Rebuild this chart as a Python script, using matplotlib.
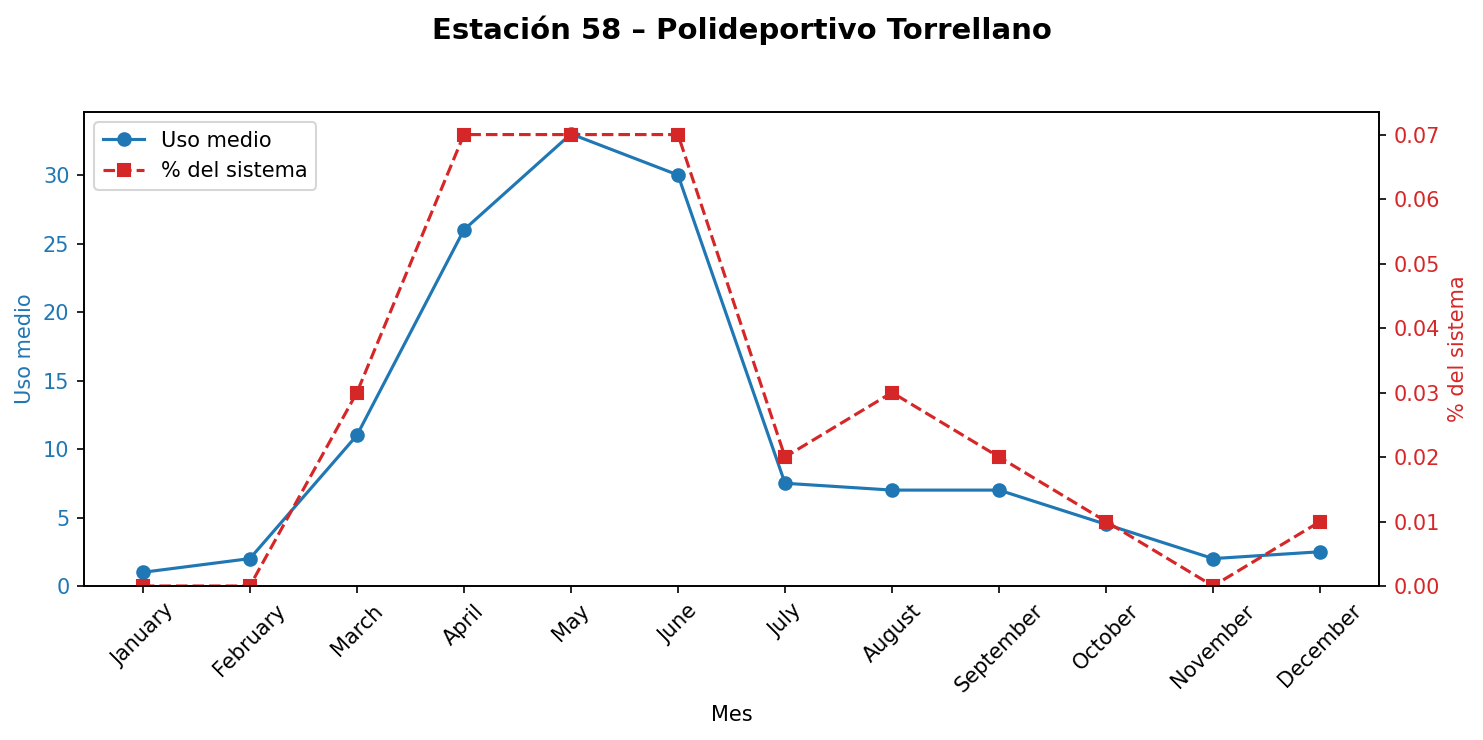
import matplotlib
matplotlib.use("Agg")
import matplotlib.pyplot as plt

months = ["January", "February", "March", "April", "May", "June", "July",
          "August", "September", "October", "November", "December"]
uso_medio = [1, 2, 11, 26, 33, 30, 7.5, 7, 7, 4.5, 2, 2.5]
pct_sistema = [0.0, 0.0, 0.03, 0.07, 0.07, 0.07, 0.02, 0.03, 0.02, 0.01, 0.0, 0.01]

c1 = "#1f77b4"
c2 = "#d62728"

fig, ax1 = plt.subplots(figsize=(1483/150, 740/150), dpi=150)
fig.subplots_adjust(left=84/1483, right=1379/1483, top=1-112/740, bottom=1-586/740)

x = range(len(months))
l1, = ax1.plot(x, uso_medio, color=c1, marker="o", linestyle="-", label="Uso medio")
ax1.set_ylabel("Uso medio", color=c1)
ax1.tick_params(axis="y", labelcolor=c1)
ax1.set_ylim(bottom=0)
ax1.set_xlabel("Mes")
ax1.set_xticks(list(x))
ax1.set_xticklabels(months, rotation=45)

ax2 = ax1.twinx()
l2, = ax2.plot(x, pct_sistema, color=c2, marker="s", linestyle="--", label="% del sistema")
ax2.set_ylabel("% del sistema", color=c2)
ax2.tick_params(axis="y", labelcolor=c2)
ax2.set_ylim(bottom=0)

ax1.legend([l1, l2], [l1.get_label(), l2.get_label()], loc="upper left")
fig.suptitle("Estación 58 – Polideportivo Torrellano", fontsize=14, fontweight="bold", y=0.979)

fig.savefig("out.png", dpi=150)
